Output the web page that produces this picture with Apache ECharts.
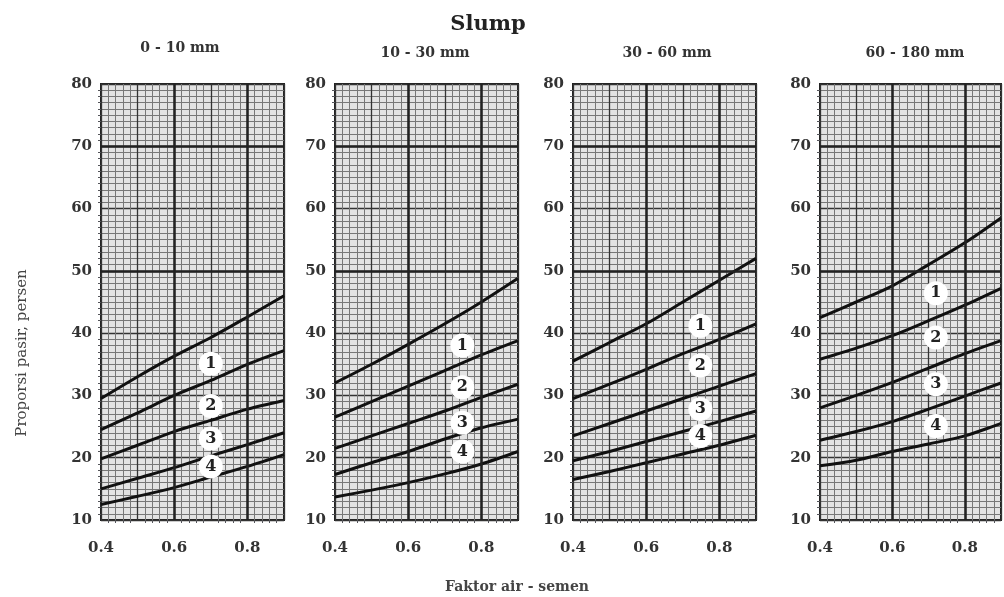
<!DOCTYPE html>
<html>
<head>
<meta charset="utf-8">
<script src="https://cdn.jsdelivr.net/npm/echarts@6/dist/echarts.min.js"></script>
<style>
html, body { margin: 0; padding: 0; background: #fff; }
#chartBox { width: 1004px; height: 597px; }
</style>
</head>
<body>
<div id="chartBox"></div>
<script>
// faktor air-semen (x) positions where the curves were read
var xValues = [0.4, 0.5, 0.6, 0.7, 0.8, 0.9];
var xTicks = [0.4, 0.6, 0.8];
var yTicks = [10, 20, 30, 40, 50, 60, 70, 80];
var heavyX = [0.6, 0.8];
var heavyY = [50, 70];

var slumpClasses = ["0 - 10 mm", "10 - 30 mm", "30 - 60 mm", "60 - 180 mm"];

// proporsi pasir (%) per curve, top curve first
var slump0_10 = [
  [29.5, 33.0, 36.3, 39.3, 42.6, 46.0],
  [24.5, 27.2, 30.0, 32.4, 35.0, 37.2],
  [19.8, 22.0, 24.2, 26.0, 27.8, 29.2],
  [15.0, 16.7, 18.4, 20.3, 22.1, 24.0],
  [12.5, 13.8, 15.2, 16.9, 18.6, 20.5]
];
var slump10_30 = [
  [32.0, 35.0, 38.2, 41.5, 45.0, 48.8],
  [26.5, 29.0, 31.5, 34.0, 36.5, 38.8],
  [21.5, 23.5, 25.5, 27.5, 29.7, 31.8],
  [17.3, 19.2, 21.0, 23.0, 24.8, 26.2],
  [13.7, 14.8, 16.0, 17.4, 19.0, 21.0]
];
var slump30_60 = [
  [35.5, 38.5, 41.5, 45.0, 48.5, 52.0],
  [29.5, 31.8, 34.2, 36.7, 39.0, 41.5],
  [23.5, 25.5, 27.5, 29.5, 31.5, 33.5],
  [19.5, 21.0, 22.6, 24.2, 25.8, 27.5],
  [16.5, 17.8, 19.2, 20.6, 22.0, 23.6]
];
var slump60_180 = [
  [42.5, 45.0, 47.6, 51.0, 54.5, 58.5],
  [35.8, 37.6, 39.6, 42.0, 44.5, 47.2],
  [28.0, 30.0, 32.1, 34.4, 36.7, 38.8],
  [22.8, 24.2, 25.8, 27.8, 29.9, 32.0],
  [18.7, 19.6, 21.0, 22.2, 23.5, 25.5]
];
var panelCurves = [slump0_10, slump10_30, slump30_60, slump60_180];

// circled curve numbers
var curveNames = ["1", "2", "3", "4"];
var labelX = [0.70, 0.748, 0.748, 0.72];
var labelY0_10 = [35.1, 28.3, 23.1, 18.6];
var labelY10_30 = [38.0, 31.3, 25.6, 21.0];
var labelY30_60 = [41.2, 34.8, 27.8, 23.5];
var labelY60_180 = [46.4, 39.3, 31.8, 25.1];
var panelLabelY = [labelY0_10, labelY10_30, labelY30_60, labelY60_180];

var serif = "DejaVu Serif";
var gridLeft = [101, 335, 573, 820];
var gridWidth = [183, 183, 183, 186];
var titleCenter = [175, 420, 662, 910];

var grids = [], xAxes = [], yAxes = [], series = [];
var titles = [
  { text: "Slump", left: 483, top: 9, textAlign: "center",
    textStyle: { fontFamily: serif, fontWeight: "bold", fontSize: 21, color: "#222" } },
  { text: "Faktor air - semen", left: 512, top: 575, textAlign: "center",
    textStyle: { fontFamily: serif, fontWeight: "bold", fontSize: 14, color: "#444" } }
];

for (var p = 0; p < 4; p++) {
  grids.push({
    left: gridLeft[p], width: gridWidth[p], top: 84, height: 436,
    show: true, backgroundColor: "#e3e3e3", borderColor: "#222", borderWidth: 2
  });
  titles.push({
    text: slumpClasses[p], left: titleCenter[p], top: p === 0 ? 36 : 41, textAlign: "center",
    textStyle: { fontFamily: serif, fontWeight: "bold", fontSize: 14, color: "#333" }
  });
  xAxes.push({
    type: "value", gridIndex: p, min: 0.4, max: 0.9, interval: 0.1,
    axisLine: { show: false }, axisTick: { show: false },
    axisLabel: {
      margin: 21, fontFamily: serif, fontWeight: "bold", fontSize: 15, color: "#333",
      formatter: function (v) {
        for (var i = 0; i < xTicks.length; i++) {
          if (Math.abs(v - xTicks[i]) < 1e-6) return xTicks[i].toFixed(1);
        }
        return "";
      }
    },
    splitLine: { show: true, lineStyle: { color: "#333", width: 1.3 } },
    minorTick: { show: true, splitNumber: 5 },
    minorSplitLine: { show: true, lineStyle: { color: "#777", width: 1 } }
  });
  yAxes.push({
    type: "value", gridIndex: p, min: yTicks[0], max: yTicks[yTicks.length - 1], interval: 10,
    axisLine: { show: false }, axisTick: { show: false },
    axisLabel: { margin: 9, fontFamily: serif, fontWeight: "bold", fontSize: 15, color: "#333" },
    splitLine: { show: true, lineStyle: { color: "#333", width: 1.3 } },
    minorTick: { show: true, splitNumber: 10 },
    minorSplitLine: { show: true, lineStyle: { color: "#777", width: 1 } }
  });

  // heavy graph-paper lines
  var heavy = [];
  heavyX.forEach(function (v) { heavy.push({ xAxis: v }); });
  heavyY.forEach(function (v) { heavy.push({ yAxis: v }); });
  series.push({
    type: "line", xAxisIndex: p, yAxisIndex: p, data: [], z: 2, silent: true,
    markLine: {
      silent: true, symbol: "none", label: { show: false },
      lineStyle: { color: "#222", width: 2.5, type: "solid" },
      data: heavy
    }
  });

  var curves = panelCurves[p];
  for (var c = 0; c < curves.length; c++) {
    series.push({
      type: "line", xAxisIndex: p, yAxisIndex: p, z: 3, smooth: 0.3,
      symbol: "none", silent: true,
      lineStyle: { color: "#111", width: 3 },
      data: xValues.map(function (x, i) { return [x, curves[c][i]]; })
    });
  }

  var ly = panelLabelY[p];
  series.push({
    type: "scatter", xAxisIndex: p, yAxisIndex: p, z: 5, silent: true,
    symbol: "circle", symbolSize: 24,
    itemStyle: { color: "#ffffff", opacity: 1 },
    label: {
      show: true, position: "inside", formatter: "{b}",
      fontFamily: serif, fontWeight: "bold", fontSize: 16, color: "#222"
    },
    data: curveNames.map(function (n, i) { return { name: n, value: [labelX[p], ly[i]] }; })
  });
}

var option = {
  animation: false,
  backgroundColor: "#ffffff",
  title: titles,
  grid: grids,
  xAxis: xAxes,
  yAxis: yAxes,
  graphic: [{
    type: "text", x: 22, y: 353, rotation: Math.PI / 2,
    style: {
      text: "Proporsi pasir, persen", fontFamily: serif, fontSize: 15,
      fill: "#444", textAlign: "center", textVerticalAlign: "middle"
    }
  }],
  series: series
};

var chart = echarts.init(document.getElementById("chartBox"));
chart.setOption(option);
</script>
</body>
</html>
